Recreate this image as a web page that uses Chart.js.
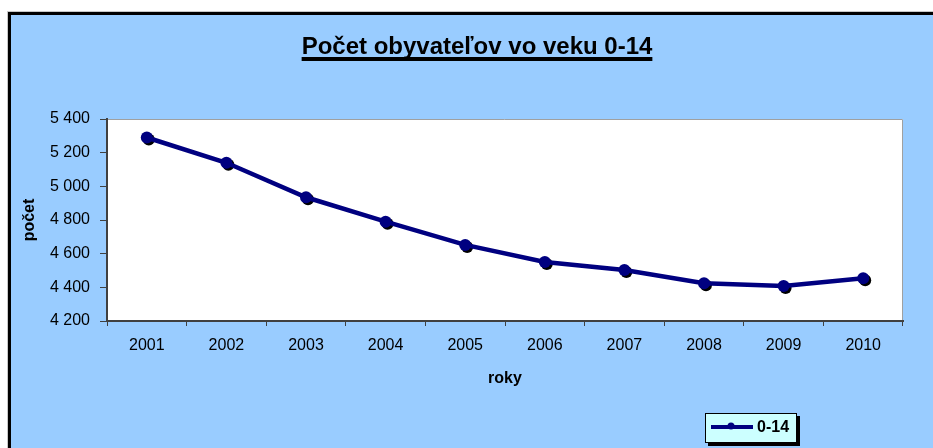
<!DOCTYPE html>
<html>
<head>
<meta charset="utf-8">
<script src="https://cdn.jsdelivr.net/npm/chart.js@4"></script>
<style>
    html, body { margin: 0; padding: 0; background: #fff; overflow: hidden; }
    .ramik {
        position: absolute; left: 8px; top: 12px;
        width: 960px; height: 480px;
        border-left: 3px solid #000; border-top: 3px solid #000;
        background: #99CCFF;
        box-shadow: -1px -1px 0 #c8c8c8;
    }
    #graf { position: absolute; left: 0; top: 0; }
</style>
</head>
<body>
<div class="ramik"></div>
<canvas id="graf" width="933" height="448"></canvas>
<script>
// údaje
const roky = ['2001', '2002', '2003', '2004', '2005', '2006', '2007', '2008', '2009', '2010'];
const pocet = [5290, 5140, 4935, 4790, 4652, 4551, 4503, 4424, 4408, 4454];
const nazovSerie = '0-14';
const nadpis = 'Počet obyvateľov vo veku 0-14';

const pismo = "'Liberation Sans', Arial, sans-serif";
const modra = '#000080';

function medzeraTisice(v) {
    return String(v).replace(/\B(?=(\d{3})+(?!\d))/g, ' ');
}

// biela plocha grafu + nadpis s podciarknutim
const pozadiePlochy = {
    id: 'pozadiePlochy',
    beforeDraw(chart) {
        const { ctx, chartArea: a } = chart;
        ctx.save();
        ctx.fillStyle = '#fff';
        ctx.fillRect(a.left, a.top, a.right - a.left, a.bottom - a.top);
        ctx.strokeStyle = '#a0a0a0';
        ctx.lineWidth = 1;
        ctx.beginPath();
        ctx.moveTo(a.left, a.top + 0.5);
        ctx.lineTo(a.right - 0.5, a.top + 0.5);
        ctx.lineTo(a.right - 0.5, a.bottom);
        ctx.stroke();

        ctx.font = 'bold 24px ' + pismo;
        ctx.fillStyle = '#000';
        ctx.textAlign = 'center';
        ctx.textBaseline = 'alphabetic';
        const stred = 477;
        ctx.fillText(nadpis, stred, 54);
        const w = ctx.measureText(nadpis).width;
        ctx.fillRect(stred - w / 2, 57, w, 4);
        ctx.restore();
    }
};

// tien pod bodmi
const tienBodov = {
    id: 'tienBodov',
    beforeDatasetDraw(chart, args) {
        if (args.index !== 1) return;
        const ctx = chart.ctx;
        ctx.save();
        ctx.shadowColor = '#000';
        ctx.shadowOffsetX = 2;
        ctx.shadowOffsetY = 2;
        ctx.shadowBlur = 0;
    },
    afterDatasetDraw(chart, args) {
        if (args.index !== 1) return;
        chart.ctx.restore();
    }
};

// legenda v ramceku
const legendaRamik = {
    id: 'legendaRamik',
    afterDraw(chart) {
        const ctx = chart.ctx;
        const x = 705, y = 413, w = 92, h = 30;
        ctx.save();
        ctx.fillStyle = '#000';
        ctx.fillRect(x + 3, y + 3, w, h);
        ctx.fillStyle = '#CCFFFF';
        ctx.fillRect(x, y, w, h);
        ctx.strokeStyle = '#000';
        ctx.lineWidth = 1;
        ctx.strokeRect(x + 0.5, y + 0.5, w - 1, h - 1);

        ctx.strokeStyle = modra;
        ctx.lineWidth = 4;
        ctx.beginPath();
        ctx.moveTo(711, 427);
        ctx.lineTo(753, 427);
        ctx.stroke();
        ctx.fillStyle = modra;
        ctx.beginPath();
        ctx.arc(731, 426, 3.5, 0, Math.PI * 2);
        ctx.fill();

        ctx.fillStyle = '#000';
        ctx.font = 'bold 16px ' + pismo;
        ctx.textAlign = 'left';
        ctx.textBaseline = 'middle';
        ctx.fillText(chart.data.datasets[0].label, 757, 428);
        ctx.restore();
    }
};

new Chart(document.getElementById('graf'), {
    type: 'line',
    data: {
        labels: roky,
        datasets: [
            {
                label: nazovSerie,
                data: pocet,
                borderColor: modra,
                borderWidth: 4.5,
                pointRadius: 0,
                tension: 0
            },
            {
                label: nazovSerie,
                data: pocet,
                showLine: false,
                pointRadius: 6,
                pointBackgroundColor: modra,
                pointBorderColor: modra,
                pointBorderWidth: 0
            }
        ]
    },
    options: {
        responsive: false,
        animation: false,
        devicePixelRatio: 1,
        layout: { padding: { left: 0, right: 30, top: 119, bottom: 0 } },
        plugins: {
            legend: { display: false },
            title: { display: false },
            tooltip: { enabled: false }
        },
        scales: {
            x: {
                offset: true,
                grid: {
                    offset: true,
                    drawOnChartArea: false,
                    tickLength: 5,
                    tickColor: '#404040',
                    tickWidth: 1
                },
                border: { color: '#404040', width: 2 },
                ticks: {
                    color: '#000',
                    padding: 10,
                    font: { family: pismo, size: 16 }
                },
                title: {
                    display: true,
                    text: 'roky',
                    color: '#000',
                    font: { family: pismo, size: 16, weight: 'bold' },
                    padding: { top: 0, bottom: 60 }
                },
                afterFit(scale) { scale.height = 127; }
            },
            y: {
                min: 4200,
                max: 5400,
                grid: {
                    drawOnChartArea: false,
                    tickLength: 7,
                    tickColor: '#404040',
                    tickWidth: 1
                },
                border: { color: '#404040', width: 2 },
                ticks: {
                    stepSize: 200,
                    color: '#000',
                    padding: 10,
                    font: { family: pismo, size: 16 },
                    callback: v => medzeraTisice(v)
                },
                title: {
                    display: true,
                    text: 'počet',
                    color: '#000',
                    font: { family: pismo, size: 16, weight: 'bold' },
                    padding: { top: 20, bottom: 0 }
                },
                afterFit(scale) { scale.width = 107; }
            }
        }
    },
    plugins: [pozadiePlochy, tienBodov, legendaRamik]
});
</script>
</body>
</html>
